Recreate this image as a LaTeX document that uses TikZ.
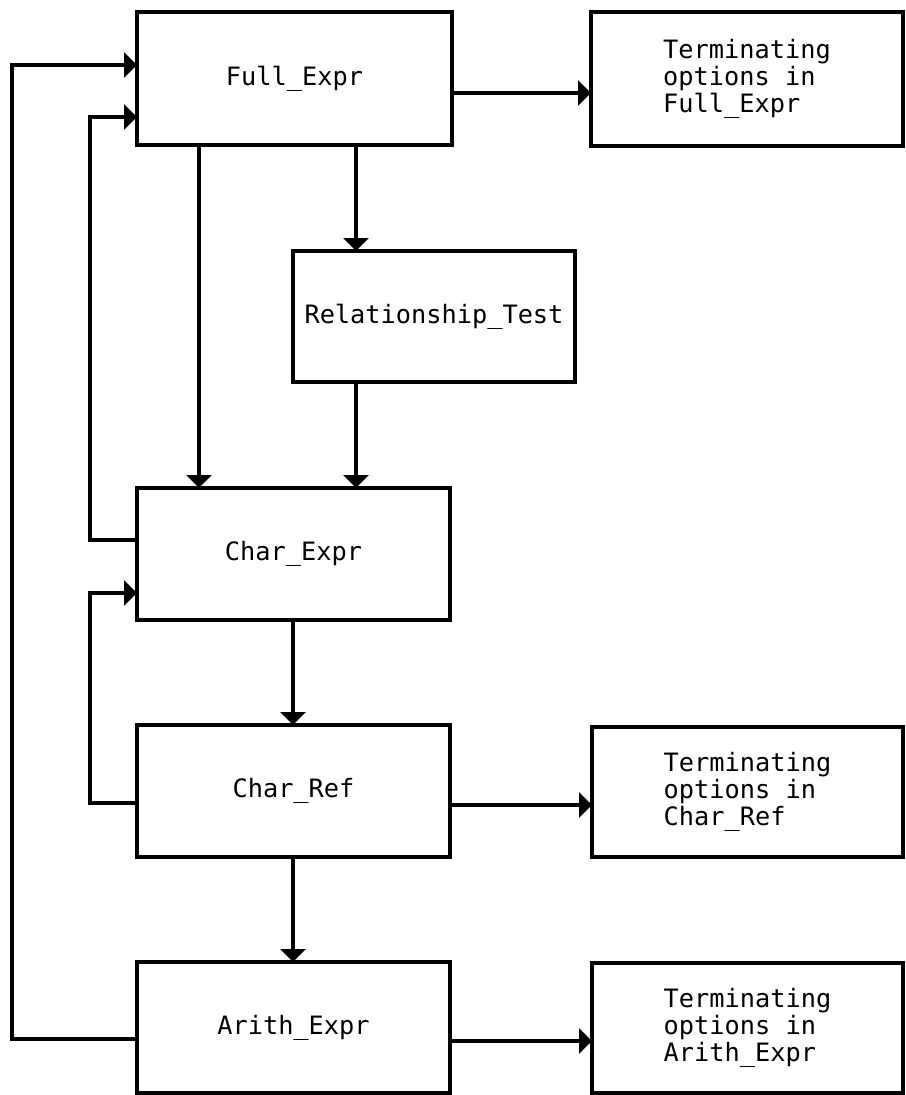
\documentclass[tikz,border=0pt]{standalone}
\usepackage{fontspec}
\newfontfamily\monofam{DejaVu Sans Mono}
\usetikzlibrary{arrows.meta}
\tikzset{
  x=1pt, y=-1pt,
  box/.style={draw, line width=3.8pt, rectangle, inner sep=0pt, outer sep=0pt,
    font=\monofam\fontsize{25.3}{27}\selectfont, align=left},
  arr/.style={line width=3.8pt, -{Triangle[length=13pt,width=25pt]}}
}
\begin{document}
\begin{tikzpicture}
\useasboundingbox (0,0) rectangle (905,1095);
% boxes
\node[box, minimum width=315pt, minimum height=133pt] (full) at (294.5,78.5) {Full\_Expr};
\node[box, minimum width=312pt, minimum height=134pt] (tfull) at (747,79) {Terminating\\options in\\Full\_Expr};
\node[box, minimum width=282pt, minimum height=131pt] (rel) at (434,316.5) {Relationship\_Test};
\node[box, minimum width=313pt, minimum height=132pt] (cexpr) at (293.5,554) {Char\_Expr};
\node[box, minimum width=313pt, minimum height=132pt] (cref) at (293.5,791) {Char\_Ref};
\node[box, minimum width=311pt, minimum height=130pt] (tcref) at (747.5,792) {Terminating\\options in\\Char\_Ref};
\node[box, minimum width=313pt, minimum height=131pt] (arith) at (293.5,1027.5) {Arith\_Expr};
\node[box, minimum width=311pt, minimum height=130pt] (tarith) at (747.5,1028) {Terminating\\options in\\Arith\_Expr};
% helper coordinates
\coordinate (xa) at (199,0);
\coordinate (xb) at (356,0);
\coordinate (xc) at (293,0);
\coordinate (ya) at (0,93);
\coordinate (yb) at (0,805);
\coordinate (yc) at (0,1041);
\coordinate (k1) at (90,540);
\coordinate (k2) at (90,117);
\coordinate (k3) at (12,1039);
\coordinate (k4) at (12,65);
\coordinate (k5) at (90,803);
\coordinate (k6) at (90,593);
% connectors
\draw[arr] (full.east |- ya) -- (tfull.west |- ya);
\draw[arr] (full.south -| xa) -- (cexpr.north -| xa);
\draw[arr] (full.south -| xb) -- (rel.north -| xb);
\draw[arr] (rel.south -| xb) -- (cexpr.north -| xb);
\draw[arr] (cexpr.west |- k1) -- (k1) -- (k2) -- (full.west |- k2);
\draw[arr] (arith.west |- k3) -- (k3) -- (k4) -- (full.west |- k4);
\draw[arr] (cref.west |- k5) -- (k5) -- (k6) -- (cexpr.west |- k6);
\draw[arr] (cexpr.south -| xc) -- (cref.north -| xc);
\draw[arr] (cref.south -| xc) -- (arith.north -| xc);
\draw[arr] (cref.east |- yb) -- (tcref.west |- yb);
\draw[arr] (arith.east |- yc) -- (tarith.west |- yc);
\end{tikzpicture}
\end{document}
